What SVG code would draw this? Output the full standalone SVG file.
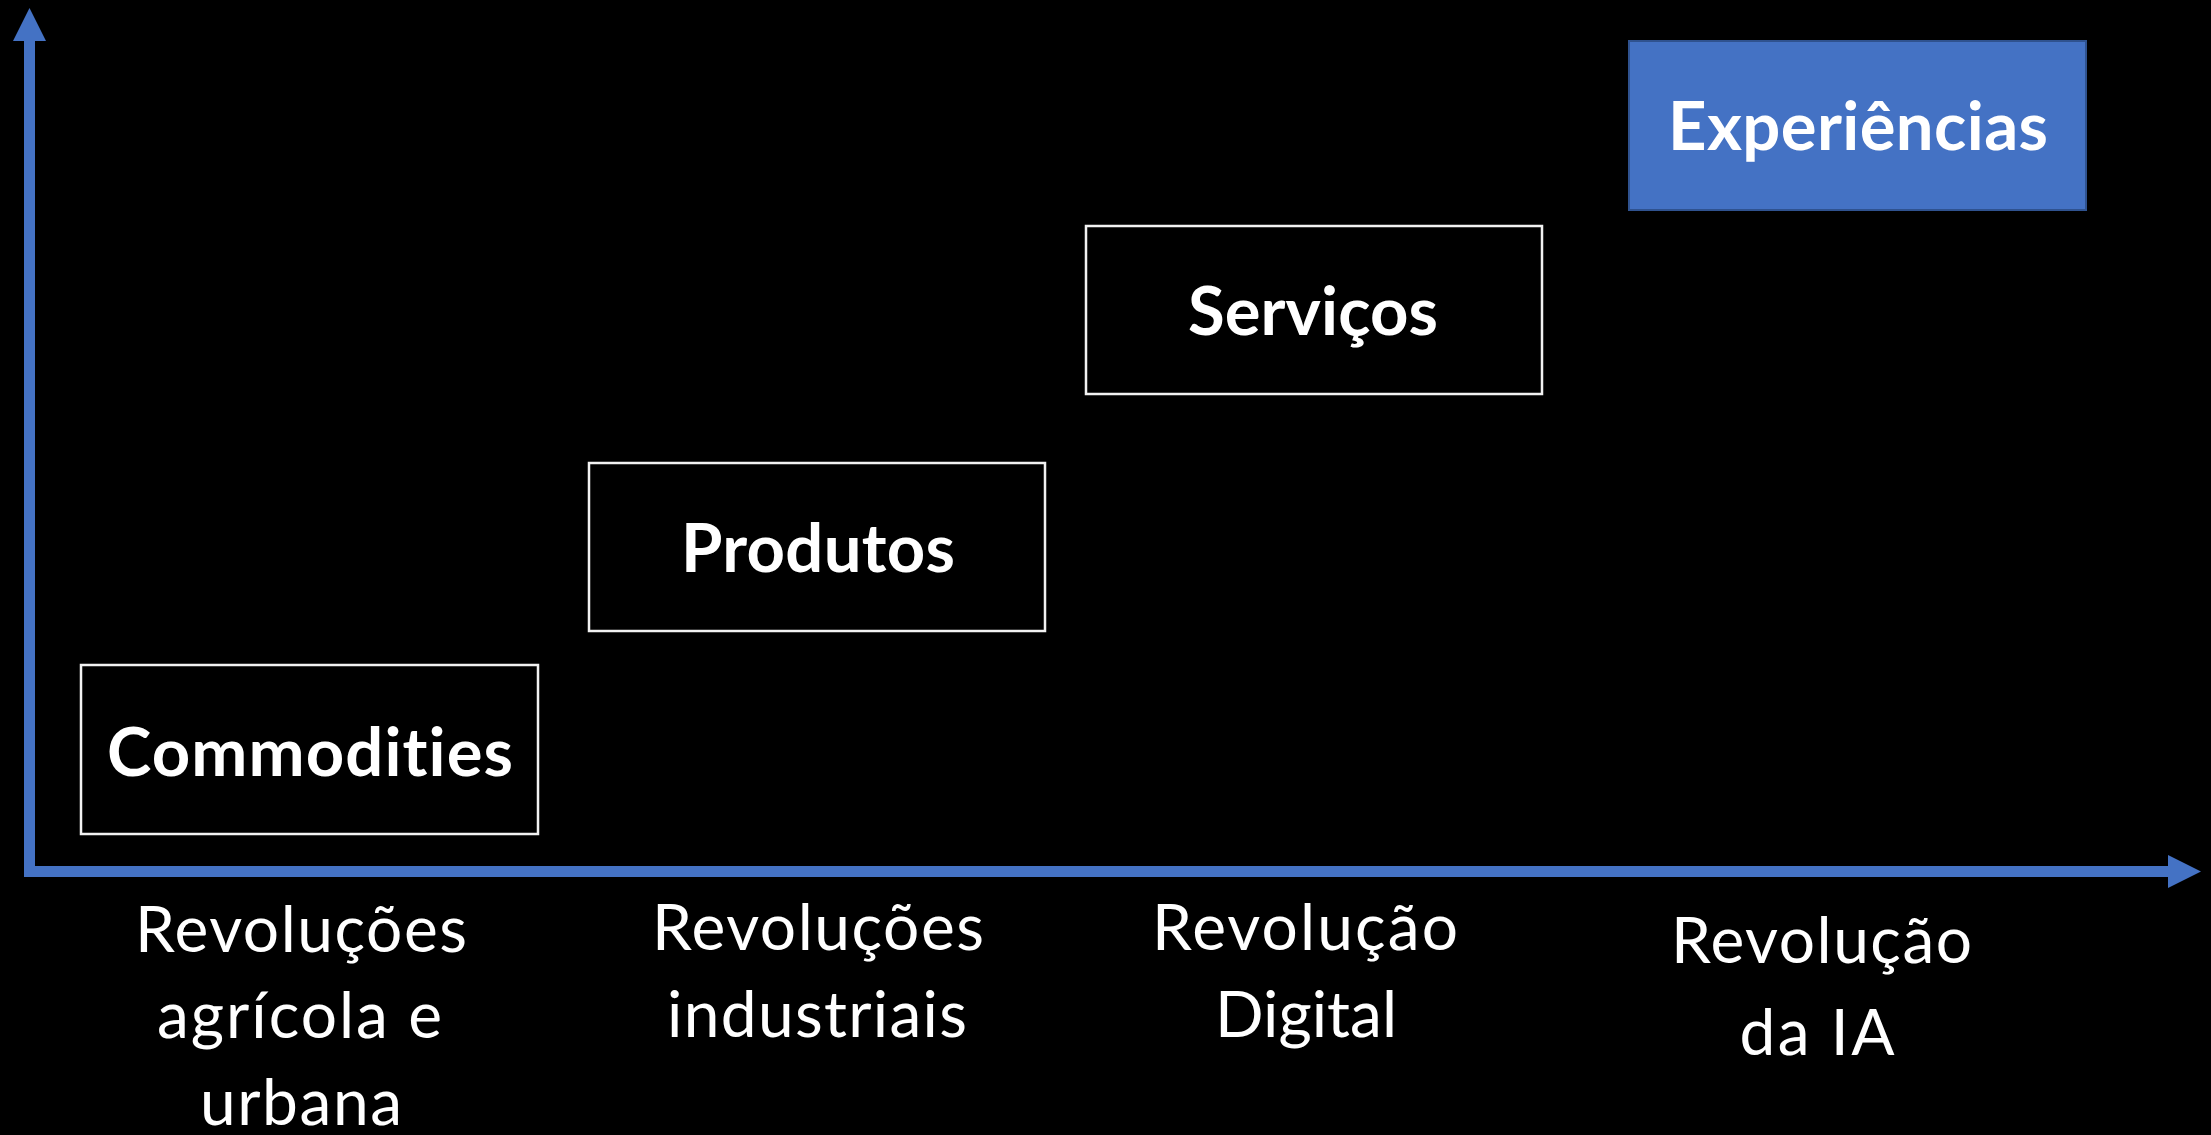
<svg xmlns="http://www.w3.org/2000/svg" width="2211" height="1135" viewBox="0 0 2211 1135">
<style>
.box{fill:#000;stroke:#F2F2F2;stroke-width:2.5}
.boxb{fill:#4472C4;stroke:#2F528F;stroke-width:2}
.bt{font-family:Lato,"Open Sans","Liberation Sans",sans-serif;font-weight:700;font-size:67px;fill:#fff;text-anchor:middle;font-variant-ligatures:none}
.rt{font-family:Lato,"Open Sans","Liberation Sans",sans-serif;font-weight:400;font-size:64px;fill:#fff;text-anchor:middle;font-variant-ligatures:none}
.ax{fill:#4472C4}
</style>
<rect x="0" y="0" width="2211" height="1135" fill="#000"/>
<g id="connectors">
<polygon class="ax" points="24,877 24,41 13,41 29.5,8 46,41 35,41 35,866 2168,866 2168,855 2201,871.5 2168,888 2168,877"/>
</g>
<g id="commodities">
<rect class="box" x="81" y="665" width="457" height="169"/>
<text class="bt" x="310" y="776" textLength="406">Commodities</text>
</g>
<g id="produtos">
<rect class="box" x="589" y="463" width="456" height="168"/>
<text class="bt" x="818" y="572" textLength="274">Produtos</text>
</g>
<g id="servicos">
<rect class="box" x="1086" y="226" width="456" height="168"/>
<text class="bt" x="1313" y="335" textLength="250">Serviços</text>
</g>
<g id="experiencias">
<rect class="boxb" x="1629" y="41" width="457" height="169"/>
<text class="bt" x="1858" y="150" textLength="380">Experiências</text>
</g>
<g id="label-agricola">
<text class="rt" x="301" y="952" textLength="332">Revoluções</text>
<text class="rt" x="299.5" y="1038" textLength="285">agrícola e</text>
<text class="rt" x="301" y="1125" textLength="202">urbana</text>
</g>
<g id="label-industriais">
<text class="rt" x="818" y="950" textLength="332">Revoluções</text>
<text class="rt" x="817" y="1037" textLength="300">industriais</text>
</g>
<g id="label-digital">
<text class="rt" x="1305" y="950" textLength="306">Revolução</text>
<text class="rt" x="1306" y="1037" textLength="182">Digital</text>
</g>
<g id="label-ia">
<text class="rt" x="1821.5" y="963" textLength="301">Revolução</text>
<text class="rt" x="1817" y="1055" textLength="155">da IA</text>
</g>
</svg>
